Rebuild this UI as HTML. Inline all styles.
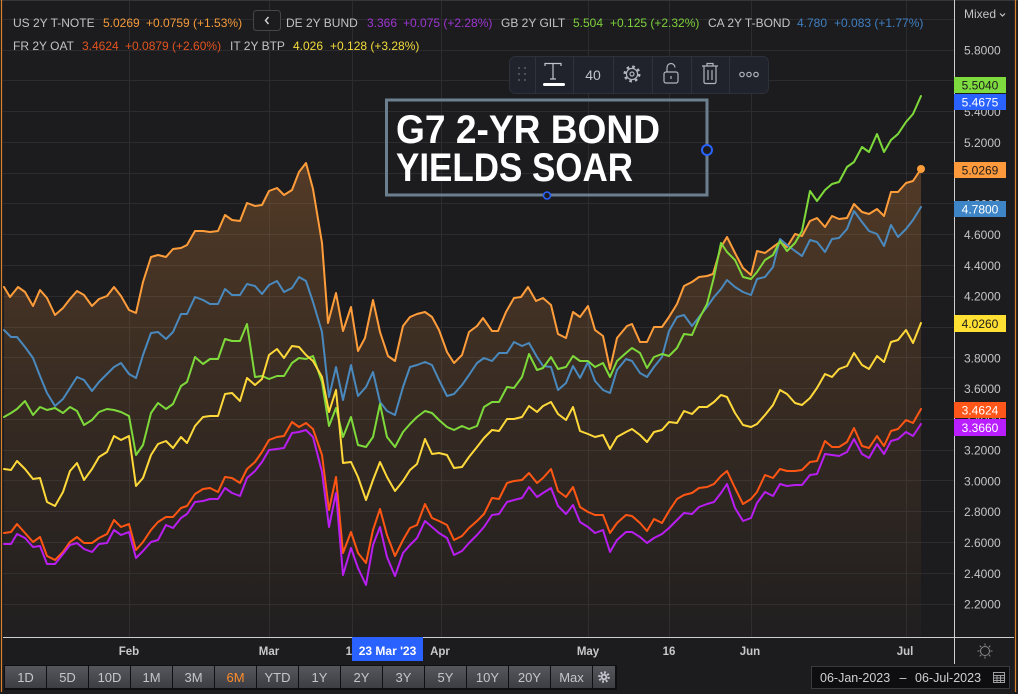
<!DOCTYPE html>
<html><head><meta charset="utf-8">
<style>
html,body{margin:0;padding:0;background:#1c1c1f;}
body{width:1018px;height:694px;overflow:hidden;position:relative;}
svg{position:absolute;left:0;top:0;display:block;}
text{font-family:"Liberation Sans",Arial,sans-serif;}
</style></head>
<body>
<svg width="1018" height="694" viewBox="0 0 1018 694" xmlns="http://www.w3.org/2000/svg">
<defs>
<linearGradient id="ag" x1="0" y1="160" x2="0" y2="637" gradientUnits="userSpaceOnUse">
<stop offset="0" stop-color="#ff9a3c" stop-opacity="0.24"/>
<stop offset="0.5" stop-color="#ff9a3c" stop-opacity="0.12"/>
<stop offset="1" stop-color="#ff9a3c" stop-opacity="0.02"/>
</linearGradient>
<linearGradient id="bg" x1="0" y1="0" x2="0" y2="1">
<stop offset="0" stop-color="#56575c"/>
<stop offset="1" stop-color="#3d3e43"/>
</linearGradient>
<clipPath id="plot"><rect x="3" y="0" width="951" height="637"/></clipPath>
</defs>
<rect x="0" y="0" width="1018" height="694" fill="#1c1c1f"/>
<rect x="0" y="0" width="1018" height="1" fill="#36363a"/>

<!-- grid -->
<g stroke="#2b2b30" stroke-width="1">
<line x1="3" x2="954" y1="19.5" y2="19.5"/>
<line x1="3" x2="954" y1="50.5" y2="50.5"/>
<line x1="3" x2="954" y1="80.5" y2="80.5"/>
<line x1="3" x2="954" y1="111.5" y2="111.5"/>
<line x1="3" x2="954" y1="142.5" y2="142.5"/>
<line x1="3" x2="954" y1="173.5" y2="173.5"/>
<line x1="3" x2="954" y1="203.5" y2="203.5"/>
<line x1="3" x2="954" y1="234.5" y2="234.5"/>
<line x1="3" x2="954" y1="265.5" y2="265.5"/>
<line x1="3" x2="954" y1="296.5" y2="296.5"/>
<line x1="3" x2="954" y1="327.5" y2="327.5"/>
<line x1="3" x2="954" y1="357.5" y2="357.5"/>
<line x1="3" x2="954" y1="388.5" y2="388.5"/>
<line x1="3" x2="954" y1="419.5" y2="419.5"/>
<line x1="3" x2="954" y1="450.5" y2="450.5"/>
<line x1="3" x2="954" y1="480.5" y2="480.5"/>
<line x1="3" x2="954" y1="511.5" y2="511.5"/>
<line x1="3" x2="954" y1="542.5" y2="542.5"/>
<line x1="3" x2="954" y1="573.5" y2="573.5"/>
<line x1="3" x2="954" y1="604.5" y2="604.5"/>
<line x1="129.5" x2="129.5" y1="1" y2="637"/>
<line x1="269.5" x2="269.5" y1="1" y2="637"/>
<line x1="352.5" x2="352.5" y1="1" y2="637"/>
<line x1="441.5" x2="441.5" y1="1" y2="637"/>
<line x1="588.5" x2="588.5" y1="1" y2="637"/>
<line x1="669.5" x2="669.5" y1="1" y2="637"/>
<line x1="751.5" x2="751.5" y1="1" y2="637"/>
<line x1="906.5" x2="906.5" y1="1" y2="637"/>
</g>

<g clip-path="url(#plot)">
<!-- US area -->
<polygon fill="url(#ag)" points="4,287 10,297 18,287 25,292 33,306 40,290 47,298 55,315 63,308 70,299 77,291 84,295 92,306 99,299 107,296 114,287 121,296 129,310 136,313 143,282 151,257 158,255 166,257 173,249 181,248 187,245 195,231 203,231 210,232 218,231 225,215 232,220 240,221 247,203 255,206 262,205 269,191 277,188 284,195 292,190 299,172 306,163 313,189 322,243 328,323 336,293 343,331 351,307 358,351 365,338 373,300 380,332 388,356 395,361 403,326 410,317 417,314 425,312 432,317 439,330 447,352 454,363 462,355 469,332 477,326 483,318 492,331 498,331 506,312 514,298 521,297 528,287 536,301 543,298 551,305 558,334 566,338 573,312 580,317 588,306 595,330 603,336 610,369 617,338 627,326 632,324 640,342 647,342 654,327 662,327 669,317 677,304 684,286 692,282 699,277 707,276 713,274 721,247 727,237 735,253 743,268 751,275 757,251 765,253 773,247 780,242 787,247 795,234 802,236 810,221 817,218 825,227 832,216 839,219 847,218 854,204 862,212 869,214 877,209 884,216 891,192 898,192 906,183 913,181 921,169 921,637 4,637"/>

<g fill="none" stroke-width="2" stroke-linejoin="round" stroke-linecap="round">
<!-- US -->
<polyline stroke="#ff9d3a" points="4,287 10,297 18,287 25,292 33,306 40,290 47,298 55,315 63,308 70,299 77,291 84,295 92,306 99,299 107,296 114,287 121,296 129,310 136,313 143,282 151,257 158,255 166,257 173,249 181,248 187,245 195,231 203,231 210,232 218,231 225,215 232,220 240,221 247,203 255,206 262,205 269,191 277,188 284,195 292,190 299,172 306,163 313,189 322,243 328,323 336,293 343,331 351,307 358,351 365,338 373,300 380,332 388,356 395,361 403,326 410,317 417,314 425,312 432,317 439,330 447,352 454,363 462,355 469,332 477,326 483,318 492,331 498,331 506,312 514,298 521,297 528,287 536,301 543,298 551,305 558,334 566,338 573,312 580,317 588,306 595,330 603,336 610,369 617,338 627,326 632,324 640,342 647,342 654,327 662,327 669,317 677,304 684,286 692,282 699,277 707,276 713,274 721,247 727,237 735,253 743,268 751,275 757,251 765,253 773,247 780,242 787,247 795,234 802,236 810,221 817,218 825,227 832,216 839,219 847,218 854,204 862,212 869,214 877,209 884,216 891,192 898,192 906,183 913,181 921,169"/>
<!-- CA -->
<polyline stroke="#4a89bd" points="4,330 11,337 17,337 25,347 33,358 40,376 47,393 55,406 63,399 70,388 77,377 84,380 92,391 99,382 107,374 114,367 121,363 129,374 136,378 143,355 151,333 158,332 166,339 173,332 181,314 187,314 195,297 203,300 210,304 218,304 225,289 232,295 240,295 247,284 255,286 262,294 269,285 277,281 284,292 292,288 299,277 306,281 313,302 322,332 329,397 336,367 343,400 351,365 358,396 366,387 373,372 380,402 387,411 395,415 403,387 410,367 417,365 425,362 432,365 439,380 447,396 454,394 462,385 469,375 477,363 484,358 492,361 499,353 507,353 514,342 522,346 529,343 537,357 543,366 551,367 558,390 566,383 573,366 580,378 588,362 595,381 603,390 610,393 617,370 626,359 632,361 640,373 647,377 654,367 662,357 669,331 677,317 684,315 692,326 699,317 707,307 714,297 721,289 727,280 735,287 743,292 751,295 757,279 765,277 773,267 780,239 787,245 795,251 802,256 810,240 817,242 825,252 832,239 839,238 847,229 854,211 862,222 869,231 877,234 884,246 891,225 898,237 906,229 913,220 921,207"/>
<!-- GB -->
<polyline stroke="#7ed93a" points="4,417 11,413 17,409 25,401 33,415 40,407 47,410 55,408 63,413 70,407 77,411 84,425 92,420 99,412 107,409 114,410 121,412 129,416 136,455 143,445 151,413 158,403 166,409 173,404 181,386 187,382 195,357 203,364 210,359 218,359 225,339 232,341 240,341 247,324 255,377 262,376 269,379 277,376 284,376 292,363 299,358 306,359 313,356 322,382 329,426 336,408 343,437 351,417 358,445 366,447 373,437 380,404 387,437 395,447 403,432 410,424 417,417 425,411 432,413 439,420 447,427 454,430 462,426 469,429 477,426 484,407 492,402 499,402 507,387 514,388 522,377 529,354 537,370 543,368 551,357 558,369 566,367 573,356 580,361 588,361 595,367 603,363 610,377 617,361 626,353 632,348 640,353 647,368 654,357 662,354 669,356 677,348 684,334 692,335 699,319 707,304 714,277 721,243 727,252 735,260 743,277 751,279 757,272 765,260 773,255 780,241 787,251 795,243 802,231 810,191 817,201 825,190 832,184 839,182 847,167 854,162 862,147 869,152 877,134 884,152 891,140 898,134 906,122 913,114 921,96"/>
<!-- FR -->
<polyline stroke="#ff5614" points="4,533 11,532 17,524 25,533 33,542 40,537 47,556 55,560 63,552 70,542 77,537 84,543 92,543 99,538 107,534 114,520 121,527 129,524 136,550 143,542 151,530 158,522 166,517 173,517 181,508 187,506 195,494 203,489 210,488 218,492 225,477 232,478 240,483 247,469 255,462 262,452 269,440 277,437 284,436 292,422 299,427 306,423 313,429 322,455 329,510 336,477 343,553 351,532 358,553 366,563 373,530 380,509 387,535 395,556 403,540 410,528 417,525 425,504 432,518 439,521 447,525 454,540 462,536 469,528 477,521 484,514 492,498 499,499 507,483 514,481 522,480 529,473 537,483 543,478 551,469 558,491 566,497 573,487 580,507 588,512 595,515 603,515 610,533 617,523 626,515 632,516 640,523 647,531 654,519 662,523 669,511 677,499 684,495 692,493 699,488 707,487 714,484 721,476 727,471 735,488 743,504 751,499 757,492 765,475 773,478 780,469 787,471 795,471 802,470 810,462 817,461 825,441 832,447 839,447 847,442 854,428 862,446 869,448 877,436 884,446 891,431 898,429 906,420 913,423 921,409"/>
<!-- DE -->
<polyline stroke="#b81ef0" points="4,544 11,544 17,534 25,538 33,547 40,546 47,564 55,564 63,554 70,545 77,543 84,549 92,552 99,544 107,543 114,530 121,535 129,532 136,558 143,551 151,542 158,540 166,525 173,528 181,518 187,514 195,502 203,501 210,499 218,499 225,488 232,493 240,496 247,478 255,471 262,462 269,450 277,449 284,448 292,433 299,432 306,430 313,437 322,472 329,527 336,493 343,575 351,548 358,568 366,585 373,545 380,527 387,557 395,576 403,553 410,545 417,538 425,521 432,527 439,533 447,538 454,555 462,551 469,543 477,535 484,527 492,515 499,514 507,502 514,500 522,498 529,487 537,497 543,493 551,488 558,506 566,514 573,505 580,522 588,527 595,533 603,530 610,552 617,540 626,532 632,532 640,537 647,543 654,538 662,534 669,528 677,520 684,513 692,514 699,507 707,504 714,502 721,493 727,484 735,508 743,521 751,518 757,503 765,492 773,496 780,484 787,486 795,485 802,485 810,475 817,474 825,454 832,455 839,456 847,452 854,439 862,454 869,458 877,444 884,454 891,441 898,439 906,432 913,436 921,424"/>
<!-- IT -->
<polyline stroke="#ffd93a" points="4,469 11,470 17,461 25,469 33,479 40,478 47,502 55,506 63,492 70,471 77,463 84,480 92,469 99,457 107,452 114,436 121,440 129,436 136,486 143,478 151,455 158,444 166,441 173,448 181,437 187,443 195,426 203,417 210,416 218,416 225,394 232,393 240,401 247,378 255,385 262,379 269,355 277,349 284,358 292,346 299,347 306,355 313,361 322,377 329,412 336,390 343,463 351,462 358,477 366,500 373,480 380,462 387,477 395,491 403,481 410,470 417,464 425,439 432,454 439,453 447,455 454,468 462,467 469,457 477,447 484,438 492,430 499,431 507,419 514,419 522,417 529,406 537,412 543,406 551,402 558,414 566,420 573,407 580,431 588,434 595,437 603,435 610,449 617,437 626,432 632,429 640,435 647,442 654,432 662,430 669,422 677,423 684,411 692,414 699,407 707,407 714,402 721,395 727,397 735,413 743,425 751,427 757,424 765,415 773,405 780,390 787,394 795,403 802,405 810,398 817,388 825,374 832,377 839,369 847,366 854,353 862,365 869,369 877,356 884,362 891,342 898,340 906,330 913,343 921,323"/>
</g>
<circle cx="921" cy="169" r="4" fill="#ff9d3a"/>
</g>

<!-- axes lines -->
<line x1="954.5" x2="954.5" y1="0" y2="664" stroke="#cfcfcf" stroke-width="1"/>
<line x1="3" x2="1014" y1="637.5" y2="637.5" stroke="#cfcfcf" stroke-width="1"/>

<!-- Y labels -->
<g fill="#c4c4c4" font-size="12">
<text x="964" y="54.5">5.8000</text>
<text x="964" y="85.3">5.6000</text>
<text x="964" y="116.1">5.4000</text>
<text x="964" y="146.8">5.2000</text>
<text x="964" y="177.6">5.0000</text>
<text x="964" y="208.4">4.8000</text>
<text x="964" y="239.2">4.6000</text>
<text x="964" y="270">4.4000</text>
<text x="964" y="300.7">4.2000</text>
<text x="964" y="331.5">4.0000</text>
<text x="964" y="362.3">3.8000</text>
<text x="964" y="393.1">3.6000</text>
<text x="964" y="423.9">3.4000</text>
<text x="964" y="454.6">3.2000</text>
<text x="964" y="485.4">3.0000</text>
<text x="964" y="516.2">2.8000</text>
<text x="964" y="547">2.6000</text>
<text x="964" y="577.8">2.4000</text>
<text x="964" y="608.5">2.2000</text>
</g>
<text x="964" y="18" fill="#c4c4c4" font-size="12">Mixed</text>
<path d="M1000 13.5 l2.5 2.5 l2.5 -2.5" stroke="#c4c4c4" stroke-width="1.2" fill="none"/>

<!-- badges -->
<g font-size="12" text-anchor="middle">
<rect x="954" y="77" width="52" height="16" fill="#7fdc3f"/><text x="980" y="89.5" fill="#1b1b1b">5.5040</text>
<rect x="954" y="94" width="52" height="16" fill="#2a62ff"/><text x="980" y="106.5" fill="#ffffff">5.4675</text>
<rect x="954" y="162" width="52" height="16" fill="#ff9a3c"/><text x="980" y="174.5" fill="#1b1b1b">5.0269</text>
<rect x="954" y="201" width="52" height="16" fill="#3d85c6"/><text x="980" y="213.5" fill="#ffffff">4.7800</text>
<rect x="954" y="315" width="52" height="17" fill="#ffe033"/><text x="980" y="328" fill="#1b1b1b">4.0260</text>
<rect x="954" y="402" width="52" height="16" fill="#ff561a"/><text x="980" y="414.5" fill="#ffffff">3.4624</text>
<rect x="954" y="419" width="52" height="17" fill="#b81eff"/><text x="980" y="432" fill="#ffffff">3.3660</text>
</g>

<!-- legend -->
<g font-size="12">
<text x="13" y="27" fill="#c3c3c3">US 2Y T-NOTE</text>
<text x="103" y="27" fill="#f59a3b">5.0269</text>
<text x="146" y="27" fill="#f59a3b">+0.0759 (+1.53%)</text>
<text x="286" y="27" fill="#c3c3c3">DE 2Y BUND</text>
<text x="367" y="27" fill="#9d36cf">3.366</text>
<text x="403" y="27" fill="#9d36cf">+0.075 (+2.28%)</text>
<text x="501" y="27" fill="#c3c3c3">GB 2Y GILT</text>
<text x="573" y="27" fill="#7dd13b">5.504</text>
<text x="610" y="27" fill="#7dd13b">+0.125 (+2.32%)</text>
<text x="708" y="27" fill="#c3c3c3">CA 2Y T-BOND</text>
<text x="797" y="27" fill="#3f7fc0">4.780</text>
<text x="834" y="27" fill="#3f7fc0">+0.083 (+1.77%)</text>
<text x="13" y="50" fill="#c3c3c3">FR 2Y OAT</text>
<text x="82" y="50" fill="#e2531e">3.4624</text>
<text x="125" y="50" fill="#e2531e">+0.0879 (+2.60%)</text>
<text x="230" y="50" fill="#c3c3c3">IT 2Y BTP</text>
<text x="293" y="50" fill="#f4dc3a">4.026</text>
<text x="330" y="50" fill="#f4dc3a">+0.128 (+3.28%)</text>
</g>
<rect x="253.5" y="10.5" width="27" height="20" rx="3" fill="#1c1c1f" stroke="#45454a"/>
<path d="M268.5 17 l-3 3.5 l3 3.5" stroke="#d0d0d0" stroke-width="1.5" fill="none"/>

<!-- toolbar -->
<rect x="509.5" y="56.5" width="259" height="37" rx="6" fill="#20232b" stroke="#2d313b"/>
<g stroke="#2e323c">
<line x1="535.5" x2="535.5" y1="57" y2="93"/>
<line x1="573.5" x2="573.5" y1="57" y2="93"/>
<line x1="613.5" x2="613.5" y1="57" y2="93"/>
<line x1="652.5" x2="652.5" y1="57" y2="93"/>
<line x1="691.5" x2="691.5" y1="57" y2="93"/>
<line x1="729.5" x2="729.5" y1="57" y2="93"/>
</g>
<g fill="#4a4f5a">
<rect x="518" y="67" width="2" height="2"/><rect x="524" y="67" width="2" height="2"/>
<rect x="518" y="73" width="2" height="2"/><rect x="524" y="73" width="2" height="2"/>
<rect x="518" y="79" width="2" height="2"/><rect x="524" y="79" width="2" height="2"/>
</g>
<g stroke="#c0c4cc" stroke-width="1.2" fill="none">
<path d="M545 66 V63.5 H561 V66 M553 63.5 V79 M550 79 H556"/>
</g>
<rect x="543" y="83" width="22" height="3" rx="1.5" fill="#ffffff"/>
<text x="593" y="80" fill="#c0c4cc" font-size="14" text-anchor="middle" font-family="Liberation Serif, serif">40</text>
<g stroke="#b0b4bc" fill="none" stroke-width="1.2">
<circle cx="632" cy="74" r="7.2" stroke-width="2.6" stroke-dasharray="2.6 3.05"/>
<circle cx="632" cy="74" r="5.6"/>
<circle cx="632" cy="74" r="2"/>
<rect x="664" y="72" width="14" height="11" rx="2"/>
<path d="M667 72 V67.5 a4 4 0 0 1 8 0"/>
<line x1="671" x2="671" y1="76" y2="79"/>
<path d="M702 66 H718 M707 66 V63.5 H713 V66 M704 66 V82 a1.5 1.5 0 0 0 1.5 1.5 H714.5 a1.5 1.5 0 0 0 1.5 -1.5 V66 M708 70 V80 M712 70 V80"/>
<circle cx="742" cy="74.5" r="2.2"/>
<circle cx="749" cy="74.5" r="2.2"/>
<circle cx="756" cy="74.5" r="2.2"/>
</g>

<!-- annotation -->
<rect x="386.5" y="100" width="320.5" height="95" fill="none" stroke="#6b7f8f" stroke-width="3"/>
<text x="396" y="143" fill="#ffffff" font-size="40" font-weight="bold" textLength="264" lengthAdjust="spacingAndGlyphs">G7 2-YR BOND</text>
<text x="396" y="181" fill="#ffffff" font-size="40" font-weight="bold" textLength="237" lengthAdjust="spacingAndGlyphs">YIELDS SOAR</text>
<circle cx="707" cy="150" r="5" fill="#1c1c1f" stroke="#2a62ff" stroke-width="2"/>
<circle cx="547" cy="195.5" r="3.5" fill="#1c1c1f" stroke="#2a62ff" stroke-width="1.6"/>

<!-- x labels -->
<g fill="#c8c8c8" font-size="11.5" font-weight="bold" text-anchor="middle">
<text x="129" y="655">Feb</text>
<text x="269" y="655">Mar</text>
<text x="352" y="655">16</text>
<text x="440" y="655">Apr</text>
<text x="588" y="655">May</text>
<text x="669" y="655">16</text>
<text x="750" y="655">Jun</text>
<text x="905" y="655">Jul</text>
</g>
<rect x="352" y="637" width="71" height="24" fill="#2a62ff"/>
<text x="387.5" y="655" fill="#ffffff" font-size="12" font-weight="bold" text-anchor="middle">23 Mar '23</text>
<!-- sun -->
<g stroke="#8a8a8a" stroke-width="1" fill="none">
<circle cx="985" cy="651" r="4.5"/>
<path d="M985 643.5 v2 M985 656.5 v2 M977.5 651 h2 M990.5 651 h2 M979.7 645.7 l1.4 1.4 M988.9 654.9 l1.4 1.4 M990.3 645.7 l-1.4 1.4 M981.1 654.9 l-1.4 1.4"/>
</g>

<!-- buttons -->
<rect x="4" y="665" width="613" height="25" fill="#0f0f11"/>
<g fill="url(#bg)">
<rect x="5" y="666" width="41" height="22"/>
<rect x="47" y="666" width="41" height="22"/>
<rect x="89" y="666" width="41" height="22"/>
<rect x="131" y="666" width="41" height="22"/>
<rect x="173" y="666" width="41" height="22"/>
<rect x="215" y="666" width="41" height="22"/>
<rect x="257" y="666" width="41" height="22"/>
<rect x="299" y="666" width="41" height="22"/>
<rect x="341" y="666" width="41" height="22"/>
<rect x="383" y="666" width="41" height="22"/>
<rect x="425" y="666" width="41" height="22"/>
<rect x="467" y="666" width="41" height="22"/>
<rect x="509" y="666" width="41" height="22"/>
<rect x="551" y="666" width="41" height="22"/>
<rect x="593" y="666" width="22" height="22"/>
</g>
<g fill="#c4c6ce" font-size="13" text-anchor="middle">
<text x="25.5" y="682">1D</text>
<text x="67.5" y="682">5D</text>
<text x="109.5" y="682">10D</text>
<text x="151.5" y="682">1M</text>
<text x="193.5" y="682">3M</text>
<text x="235.5" y="682" fill="#ff8c2a">6M</text>
<text x="277.5" y="682">YTD</text>
<text x="319.5" y="682">1Y</text>
<text x="361.5" y="682">2Y</text>
<text x="403.5" y="682">3Y</text>
<text x="445.5" y="682">5Y</text>
<text x="487.5" y="682">10Y</text>
<text x="529.5" y="682">20Y</text>
<text x="571.5" y="682">Max</text>
</g>
<circle cx="604" cy="677" r="4.6" fill="none" stroke="#c4c6ce" stroke-width="2.4" stroke-dasharray="1.8 1.8"/>
<circle cx="604" cy="677" r="3.2" fill="#c4c6ce"/>
<circle cx="604" cy="677" r="1.4" fill="#47484d"/>

<!-- date range -->
<rect x="811.5" y="666.5" width="198" height="22" fill="#0e0e10" stroke="#3a3a3d"/>
<text x="820" y="682" fill="#cfcfcf" font-size="12.5">06-Jan-2023</text>
<text x="903" y="682" fill="#cfcfcf" font-size="12.5" text-anchor="middle">–</text>
<text x="915" y="682" fill="#cfcfcf" font-size="12.5">06-Jul-2023</text>
<g fill="none" stroke="#a0a0a0" stroke-width="1">
<rect x="993.5" y="672.5" width="11" height="10"/>
<path d="M993.5 675.5 h11 M993.5 678 h11 M993.5 680.5 h11 M997 675.5 v7 M1000.5 675.5 v7"/>
</g>

<!-- window borders -->
<line x1="1.5" x2="1.5" y1="0" y2="692" stroke="#d9822b" stroke-width="1.2"/>
<line x1="1015.5" x2="1015.5" y1="0" y2="692" stroke="#d9822b" stroke-width="1.2"/>
</svg>
</body></html>
